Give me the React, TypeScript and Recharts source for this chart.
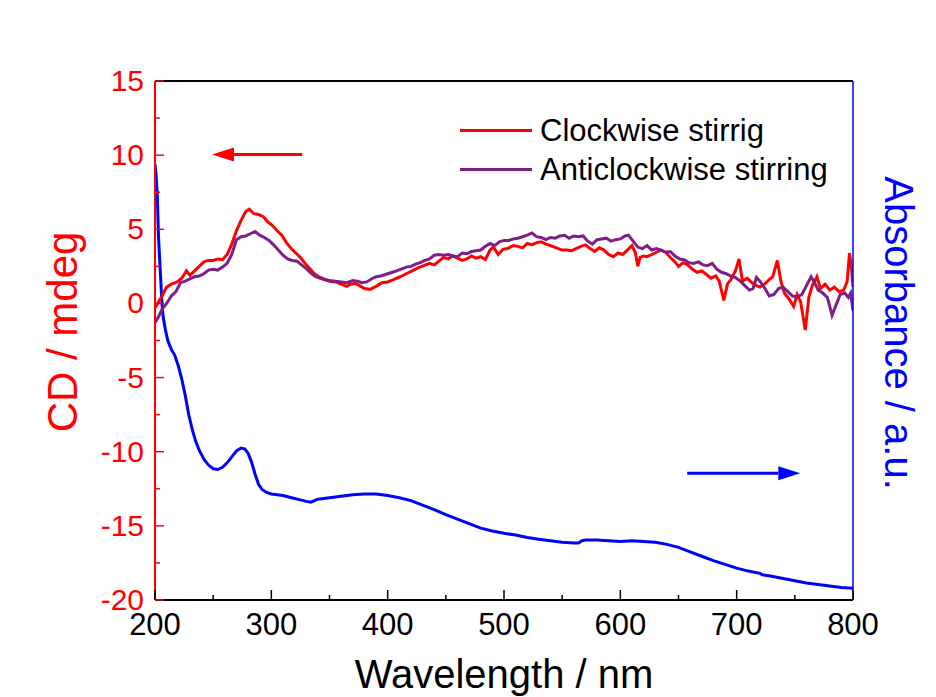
import { LineChart, Line, XAxis, YAxis, ReferenceLine, Legend } from 'recharts';

const FONT = '"Liberation Sans", Arial, sans-serif';

const seriesNames = ['Clockwise stirrig', 'Anticlockwise stirring'];

// clockwise stirring CD (mdeg)
const cwNm = [
  200, 203, 206, 210, 214, 219, 223, 227, 230, 234, 238, 242, 246, 250, 254, 258, 262, 266, 270, 274,
  278, 281, 285, 289, 293, 297, 301, 305, 309, 313, 317, 321, 325, 329, 333, 337, 341, 345, 350, 355,
  360, 365, 368, 372, 376, 380, 385, 390, 395, 400, 405, 411, 416, 421, 426, 431, 436, 440, 444, 448,
  452, 456, 460, 464, 468, 472, 476, 480, 484, 488, 491, 495, 499, 503, 508, 512, 516, 520, 524, 528,
  532, 536, 540, 545, 550, 554, 558, 562, 566, 570, 574, 578, 582, 586, 590, 594, 598, 602, 606, 610,
  613, 615, 617, 620, 623, 627, 631, 635, 639, 643, 647, 650, 654, 658, 662, 666, 670, 674, 678, 682,
  685, 689, 692, 695, 699, 702, 705, 709, 713, 717, 720, 724, 728, 731, 735, 738, 741, 745, 749, 752,
  755, 759, 762, 765, 769, 772, 776, 780, 784, 788, 792, 795, 797, 799, 800,
];
const cwCd = [
  -0.3, 0.1, 0.5, 1.1, 1.3, 1.45, 1.7, 2.2, 1.9, 2.2, 2.5, 2.8, 2.9, 2.9, 3.0, 2.95, 3.3, 4.0, 4.9, 5.6,
  6.2, 6.35, 6.05, 6.0, 5.85, 5.5, 5.25, 4.9, 4.6, 4.1, 3.7, 3.4, 3.1, 2.7, 2.35, 2.0, 1.8, 1.65, 1.5, 1.45,
  1.3, 1.15, 1.3, 1.35, 1.2, 1.0, 0.95, 1.15, 1.4, 1.45, 1.6, 1.8, 2.0, 2.2, 2.4, 2.55, 2.7, 2.6, 2.85, 3.1,
  3.0, 3.2, 3.05, 2.9, 3.0, 3.2, 3.05, 3.15, 2.95, 3.6, 3.8, 3.3, 3.65, 3.7, 3.9, 3.85, 3.75, 4.05, 3.95, 4.1,
  4.15, 4.0, 3.9, 3.75, 3.6, 3.6, 3.55, 3.7, 3.85, 3.95, 3.7, 3.5, 3.75, 3.6, 3.3, 3.15, 3.4, 3.3, 3.6, 3.9,
  3.4, 2.5, 3.1, 3.2, 3.15, 3.3, 3.45, 3.6, 3.45, 3.1, 2.8, 2.5, 2.75, 2.6, 2.3, 2.1, 2.2, 1.95, 1.7, 1.85,
  1.5, 0.2, 1.3, 1.6, 2.2, 3.0, 1.5, 1.7, 1.4, 1.2, 1.1, 1.3, 1.6, 1.8, 2.9, 1.5, 0.7, 0.3, -0.2, 0.6,
  0.1, -1.8, 0.4, 1.2, 1.8, 1.0, 1.3, 0.9, 1.1, 0.8, 0.9, 1.5, 3.4, 2.2, 1.1,
];

// anticlockwise stirring CD (mdeg)
const acwNm = [
  200, 203, 206, 210, 214, 218, 222, 226, 230, 234, 238, 242, 246, 250, 254, 258, 262, 266, 270, 274,
  278, 282, 286, 290, 294, 298, 302, 306, 310, 314, 318, 322, 326, 330, 334, 338, 342, 346, 350, 355,
  360, 365, 370, 374, 378, 382, 386, 390, 394, 398, 402, 406, 411, 416, 420, 424, 428, 432, 436, 440,
  444, 448, 452, 456, 460, 464, 468, 472, 476, 480, 484, 488, 492, 496, 500, 504, 508, 512, 516, 520,
  524, 528, 532, 536, 540, 544, 548, 552, 556, 560, 564, 568, 572, 576, 580, 584, 588, 592, 596, 600,
  604, 607, 611, 615, 619, 623, 627, 631, 635, 639, 643, 647, 651, 655, 659, 663, 667, 671, 675, 679,
  683, 687, 691, 695, 699, 703, 707, 711, 714, 717, 720, 724, 728, 732, 736, 740, 744, 748, 752, 756,
  760, 764, 767, 770, 774, 778, 782, 785, 789, 793, 796, 798, 800,
];
const acwCd = [
  -1.3, -0.9, -0.4, 0.0, 0.5, 0.8, 1.4, 1.5, 1.65, 1.8, 1.85, 2.0, 2.25, 2.3, 2.25, 2.45, 2.7, 3.3, 4.3, 4.5,
  4.55, 4.7, 4.85, 4.6, 4.45, 4.25, 3.95, 3.6, 3.25, 3.0, 2.9, 2.85, 2.6, 2.35, 2.05, 1.8, 1.7, 1.6, 1.55, 1.5,
  1.45, 1.4, 1.55, 1.5, 1.4, 1.45, 1.65, 1.8, 1.85, 1.95, 2.05, 2.15, 2.3, 2.45, 2.5, 2.65, 2.75, 2.9, 3.0, 3.25,
  3.3, 3.25, 3.3, 3.2, 3.15, 3.4, 3.35, 3.5, 3.55, 3.6, 3.85, 4.05, 3.9, 4.15, 4.25, 4.25, 4.35, 4.4, 4.5, 4.6,
  4.75, 4.5, 4.45, 4.3, 4.45, 4.4, 4.55, 4.6, 4.4, 4.55, 4.5, 4.55, 4.2, 4.0, 4.3, 4.35, 4.4, 4.2, 4.3, 4.35,
  4.55, 4.6, 4.2, 3.8, 3.7, 3.9, 3.6, 3.7, 3.6, 3.45, 3.5, 3.2, 3.0, 2.95, 2.75, 2.7, 2.8, 2.6, 2.55, 2.7,
  2.3, 2.1, 2.0, 1.85, 1.75, 1.5, 1.2, 0.9, 1.0, 1.75, 1.5, 1.05, 0.5, 0.6, 1.0, 1.1, 0.8, 0.5, 0.45, 0.6,
  1.2, 1.8, 1.4, 0.9, 0.7, 0.4, -0.8, -0.2, 0.6, 0.7, 0.4, 0.7, -0.5,
];

// absorbance, drawn on the right axis (same visual range as the CD axis)
const absNm = [
  200, 201, 202, 203, 204, 205, 206, 207, 209, 211, 214, 217, 220, 223, 226, 229, 232, 235, 238, 242,
  246, 250, 254, 258, 262, 266, 270, 274, 277, 280, 283, 286, 289, 292, 296, 300, 305, 310, 315, 320,
  325, 330, 334, 337, 340, 345, 350, 360, 370, 380, 390, 400, 410, 420, 430, 440, 450, 460, 470, 480,
  490, 500, 510, 520, 530, 540, 550, 560, 564, 567, 570, 580, 590, 600, 610, 620, 630, 640, 650, 660,
  670, 680, 690, 700, 710, 720, 722, 730, 740, 750, 760, 770, 780, 790, 800,
];
const absVal = [
  9.4, 8.6, 7.2, 4.5, 3.0, 1.5, 0.0, -0.9, -1.8, -2.5, -3.1, -3.5, -4.2, -5.1, -6.2, -7.5, -8.5, -9.3, -9.9, -10.5,
  -10.9, -11.15, -11.2, -11.05, -10.75, -10.35, -9.95, -9.75, -9.8, -10.1, -10.7, -11.5, -12.2, -12.55, -12.75, -12.85, -12.9, -12.95, -13.05, -13.15,
  -13.25, -13.35, -13.4, -13.3, -13.2, -13.15, -13.1, -13.0, -12.9, -12.85, -12.85, -12.95, -13.1, -13.3, -13.6, -13.9, -14.25, -14.55, -14.85, -15.15,
  -15.35, -15.5, -15.62, -15.78, -15.9, -16.0, -16.1, -16.15, -16.15, -16.0, -15.95, -15.95, -16.0, -16.05, -16.0, -16.05, -16.1, -16.25, -16.45, -16.75,
  -17.05, -17.35, -17.6, -17.85, -18.05, -18.2, -18.3, -18.4, -18.55, -18.7, -18.85, -18.95, -19.05, -19.15, -19.2,
];

const xTicks = [200, 250, 300, 350, 400, 450, 500, 550, 600, 650, 700, 750, 800];
const yTicks = [-20, -17.5, -15, -12.5, -10, -7.5, -5, -2.5, 0, 2.5, 5, 7.5, 10, 12.5, 15];

const toPoints = (xs: number[], ys: number[]) => xs.map((nm, i) => ({ nm, v: ys[i] }));

const cwData = toPoints(cwNm, cwCd);
const acwData = toPoints(acwNm, acwCd);
const absData = toPoints(absNm, absVal);

const XTick = ({ x, y, payload }: any) => {
  const major = payload.value % 100 === 0;
  return (
    <g>
      <line x1={x} x2={x} y1={y} y2={y - (major ? 10 : 5)} stroke="#000" strokeWidth={1.5} />
      {major && (
        <text x={x} y={y + 35} textAnchor="middle" fontSize={31} fontFamily={FONT} fill="#000">
          {payload.value}
        </text>
      )}
    </g>
  );
};

const YTick = ({ x, y, payload }: any) => {
  const major = payload.value % 5 === 0;
  return (
    <g>
      <line x1={x} x2={x + (major ? 9 : 5)} y1={y} y2={y} stroke="#f00" strokeWidth={1.5} />
      {major && (
        <text x={x - 11} y={y} dy={10} textAnchor="end" fontSize={30} fontFamily={FONT} fill="#f00">
          {payload.value}
        </text>
      )}
    </g>
  );
};

const arrow = (color: string) => (props: any) => {
  const { x1, y1, x2, y2 } = props;
  const dir = x2 > x1 ? 1 : -1;
  const head = 22;
  return (
    <g>
      <line x1={x1} y1={y1} x2={x2 - dir * head} y2={y2} stroke={color} strokeWidth={3} />
      <polygon
        points={`${x2},${y2} ${x2 - dir * head},${y2 - 7} ${x2 - dir * head},${y2 + 7}`}
        fill={color}
      />
    </g>
  );
};

const renderLegend = ({ payload }: any) => {
  const items = (payload || [])
    .filter((p: any) => p.type !== 'none')
    .sort((a: any, b: any) => seriesNames.indexOf(a.value) - seriesNames.indexOf(b.value));
  return (
    <div style={{ fontFamily: FONT, fontSize: 31, lineHeight: '39px', color: '#000' }}>
      {items.map((p: any) => (
        <div key={p.value} style={{ display: 'flex', alignItems: 'center', whiteSpace: 'nowrap' }}>
          <span style={{ display: 'inline-block', width: 72, height: 3, background: p.color, marginRight: 8 }} />
          <span>{p.value}</span>
        </div>
      ))}
    </div>
  );
};

export default function App() {
  return (
    <div style={{ position: 'absolute', left: 0, top: 0, background: '#fff' }}>
      <LineChart width={936} height={697} margin={{ top: 81, right: 0, bottom: 0, left: 0 }}>
        <XAxis
          dataKey="nm"
          type="number"
          domain={[200, 800]}
          ticks={xTicks}
          allowDataOverflow
          height={97}
          tickSize={0}
          tickMargin={0}
          tickLine={false}
          tick={<XTick />}
          axisLine={{ stroke: '#000', strokeWidth: 2 }}
          label={{
            content: ({ viewBox }: any) => (
              <text
                x={viewBox.x + viewBox.width / 2}
                y={688}
                textAnchor="middle"
                fontSize={40}
                fontFamily={FONT}
                fill="#000"
              >
                Wavelength / nm
              </text>
            ),
          }}
        />
        <YAxis
          yAxisId="cd"
          type="number"
          domain={[-20, 15]}
          ticks={yTicks}
          allowDataOverflow
          width={155}
          tickSize={0}
          tickMargin={0}
          tickLine={false}
          tick={<YTick />}
          axisLine={{ stroke: '#f00', strokeWidth: 2 }}
          label={{
            content: () => (
              <text
                x={77}
                y={332}
                transform="rotate(-90, 77, 332)"
                textAnchor="middle"
                fontSize={42}
                fontFamily={FONT}
                fill="#f00"
              >
                CD / mdeg
              </text>
            ),
          }}
        />
        <YAxis
          yAxisId="abs"
          orientation="right"
          type="number"
          domain={[-20, 15]}
          allowDataOverflow
          width={83}
          tick={false}
          tickLine={false}
          axisLine={{ stroke: '#00f', strokeWidth: 1.5 }}
          label={{
            content: () => (
              <text
                x={885}
                y={333}
                transform="rotate(90, 885, 333)"
                textAnchor="middle"
                fontSize={40}
                fontFamily={FONT}
                fill="#00f"
              >
                Absorbance / a.u.
              </text>
            ),
          }}
        />
        <ReferenceLine yAxisId="cd" y={15} stroke="#000" strokeWidth={2} ifOverflow="visible" />
        <ReferenceLine
          yAxisId="cd"
          segment={[{ x: 326.5, y: 10.05 }, { x: 249, y: 10.05 }]}
          ifOverflow="visible"
          shape={arrow('#f00')}
        />
        <ReferenceLine
          yAxisId="cd"
          segment={[{ x: 657.5, y: -11.45 }, { x: 754.7, y: -11.45 }]}
          ifOverflow="visible"
          shape={arrow('#00f')}
        />
        <Legend
          layout="vertical"
          align="center"
          verticalAlign="middle"
          content={renderLegend}
          wrapperStyle={{ position: 'absolute', left: 460, top: 111, width: 'auto', height: 'auto' }}
        />
        <Line
          yAxisId="abs"
          data={absData}
          dataKey="v"
          name="Absorbance"
          legendType="none"
          stroke="#0000ff"
          strokeWidth={3}
          dot={false}
          isAnimationActive={false}
        />
        <Line
          yAxisId="cd"
          data={cwData}
          dataKey="v"
          name={seriesNames[0]}
          stroke="#ff0000"
          strokeWidth={3}
          dot={false}
          isAnimationActive={false}
        />
        <Line
          yAxisId="cd"
          data={acwData}
          dataKey="v"
          name={seriesNames[1]}
          stroke="#7d1f87"
          strokeWidth={3}
          dot={false}
          isAnimationActive={false}
        />
      </LineChart>
    </div>
  );
}
